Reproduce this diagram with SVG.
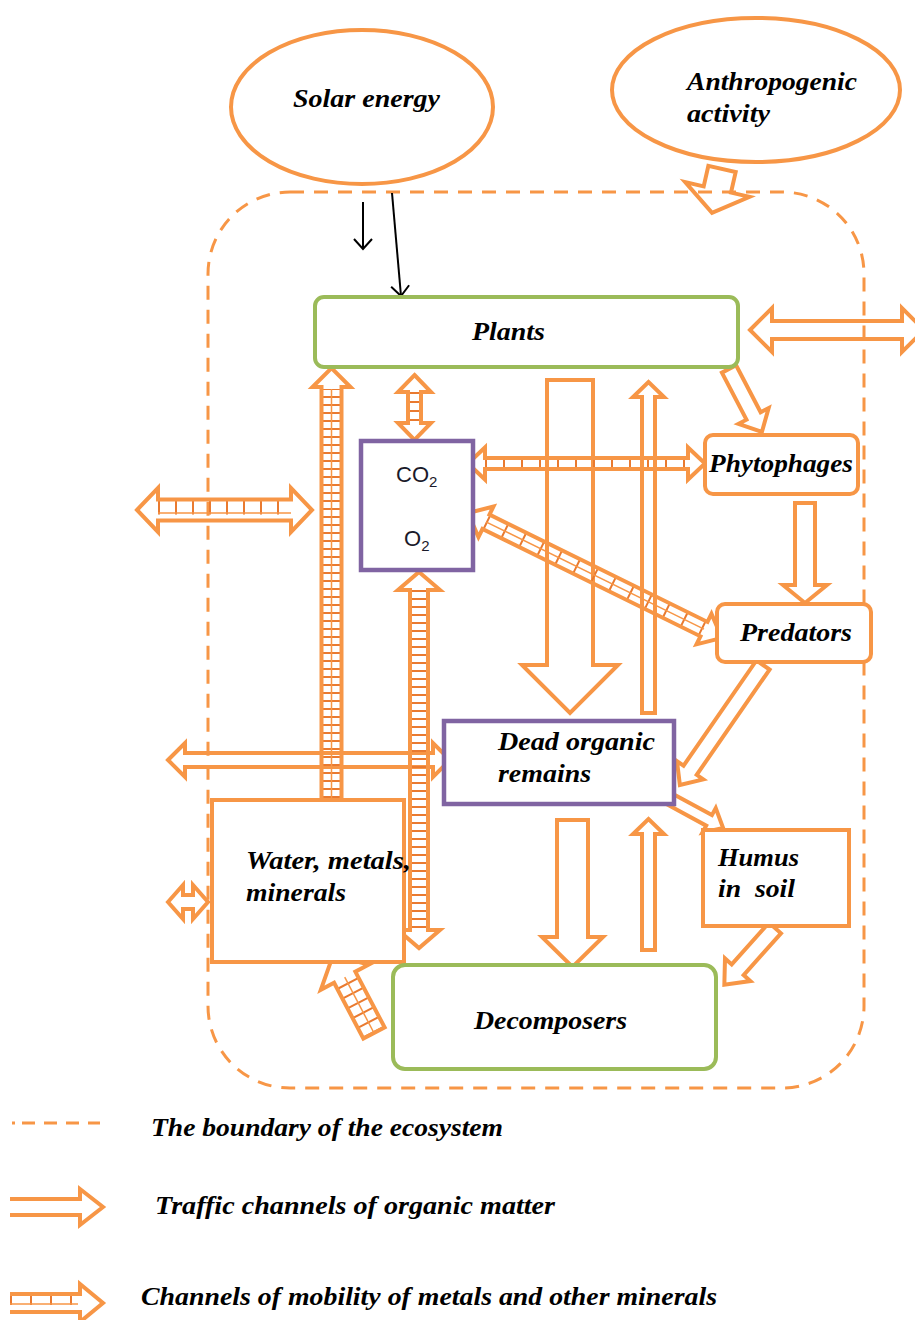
<svg xmlns="http://www.w3.org/2000/svg" width="915" height="1320" viewBox="0 0 915 1320">
<style>
.arr{fill:none;stroke:#F79646;stroke-width:4;stroke-linejoin:miter}
.rung{fill:none;stroke:#E97A30}
.cl{fill:none;stroke:#F79646;stroke-width:1.5}
.lbl{font-family:"Liberation Serif",serif;font-weight:bold;font-style:italic;font-size:26px;fill:#000}
.chem{font-family:"Liberation Sans",sans-serif;font-size:22px;fill:#1a1a2a}
.ell{fill:#fff;stroke:#F79646;stroke-width:4}
.green{fill:#fff;stroke:#9BBB59;stroke-width:4}
.purple{fill:#fff;stroke:#8064A2;stroke-width:4.5}
.orangebox{fill:#fff;stroke:#F79646;stroke-width:4}
.blk{fill:none;stroke:#000;stroke-width:2}
</style>
<defs>
<marker id="vhead" markerUnits="userSpaceOnUse" markerWidth="24" markerHeight="24" refX="12" refY="12" orient="auto" viewBox="0 0 24 24">
<path d="M2,3 L12,12 L2,21" fill="none" stroke="#000" stroke-width="2"/>
</marker>
</defs>
<rect width="915" height="1320" fill="#fff"/>

<g id="boundary">
<rect x="208" y="192" width="656" height="896" rx="82" ry="82" fill="none" stroke="#F79646" stroke-width="3" stroke-dasharray="14 10"/>
</g>

<g id="connectors">
<line class="blk" x1="363" y1="202" x2="363" y2="249" marker-end="url(#vhead)"/>
<line class="blk" x1="392" y1="193" x2="401" y2="296" marker-end="url(#vhead)"/>
<path class="arr" transform="translate(722,169) rotate(102.8)" d="M0,-14 L21,-14 L21,-33 L45,0 L21,33 L21,14 L0,14 Z"/>
<path class="arr" d="M750,330 L772,308 L772,321 L902,321 L902,308 L924,330 L902,352 L902,339 L772,339 L772,352 Z"/>
<path class="arr" transform="translate(729,369) rotate(62.4)" d="M0,-8 L53,-8 L53,-17 L71,0 L53,17 L53,8 L0,8 Z"/>
<path class="arr" d="M795,503 L815,503 L815,585 L827,585 L805,603 L783,585 L795,585 Z"/>
<path class="arr" transform="translate(763,665) rotate(124.7)" d="M0,-8 L128,-8 L128,-16 L146,0 L128,16 L128,8 L0,8 Z"/>
<path class="arr" transform="translate(666,797) rotate(28.5)" d="M0,-6 L49,-6 L49,-14 L65,0 L49,14 L49,6 L0,6 Z"/>
<path class="arr" transform="translate(775,928) rotate(131.8)" d="M0,-8 L56,-8 L56,-17 L76,0 L56,17 L56,8 L0,8 Z"/>
<path class="arr" d="M547,380 L593,380 L593,665 L618,665 L570,713 L522,665 L547,665 Z"/>
<path class="arr" d="M642,713 L642,397 L633,397 L648.5,382 L664,397 L655,397 L655,713 Z"/>
<path class="arr" d="M557,820 L588,820 L588,937 L603,937 L572.5,967 L542,937 L557,937 Z"/>
<path class="arr" d="M642,950 L642,834 L633,834 L648.5,819 L664,834 L655,834 L655,950 Z"/>
<path class="arr" d="M168,760 L185,743 L185,753 L433,753 L433,743 L450,760 L433,777 L433,767 L185,767 L185,777 Z"/>
<path class="arr" d="M168,902 L183,885 L183,895 L193,895 L193,885 L208,902 L193,919 L193,909 L183,909 L183,919 Z"/>

<g id="h-water-plants">
<line class="rung" x1="331.5" y1="806" x2="331.5" y2="389" stroke-width="20" stroke-dasharray="2 6"/>
<line class="cl" x1="331.5" y1="806" x2="331.5" y2="389"/>
<path class="arr" d="M321.5,808 L321.5,387 L312.5,387 L331.5,368 L350.5,387 L341.5,387 L341.5,808 Z"/>
</g>
<g id="h-plants-co2">
<line class="rung" x1="414.5" y1="392" x2="414.5" y2="423" stroke-width="13" stroke-dasharray="2 7"/>
<path class="arr" d="M414.5,375 L431,392 L421,392 L421,423 L431,423 L414.5,440 L398,423 L408,423 L408,392 L398,392 Z"/>
</g>
<g id="h-co2-decomp">
<line class="rung" x1="419" y1="590" x2="419" y2="930" stroke-width="18" stroke-dasharray="2 6"/>
<path class="arr" d="M419,572 L440,590 L428,590 L428,930 L440,930 L419,948 L398,930 L410,930 L410,590 L398,590 Z"/>
</g>
<g id="h-co2-phyto">
<line class="rung" x1="485" y1="463.5" x2="688" y2="463.5" stroke-width="11" stroke-dasharray="2 16"/>
<path class="arr" d="M468,463.5 L485,447.5 L485,458 L688,458 L688,447.5 L705,463.5 L688,479.5 L688,469 L485,469 L485,479.5 Z"/>
</g>
<g id="h-left">
<line class="rung" x1="158" y1="507" x2="291" y2="507" stroke-width="15" stroke-dasharray="2 15"/>
<line class="cl" x1="158" y1="513" x2="291" y2="513"/>
<path class="arr" d="M137,510 L158,488 L158,499.5 L291,499.5 L291,488 L312,510 L291,532 L291,520.5 L158,520.5 L158,532 Z"/>
</g>
<g id="h-co2-pred" transform="translate(468,513) rotate(26.2)">
<line class="rung" x1="20" y1="0" x2="263" y2="0" stroke-width="16" stroke-dasharray="2 18"/>
<line class="cl" x1="20" y1="0" x2="263" y2="0"/>
<path class="arr" d="M0,0 L20,-17 L20,-8 L263,-8 L263,-17 L283,0 L263,17 L263,8 L20,8 L20,17 Z"/>
</g>
<g id="h-decomp-water" transform="translate(374,1033) rotate(-117.7)">
<line class="rung" x1="0" y1="0" x2="63" y2="0" stroke-width="24" stroke-dasharray="2 9"/>
<line class="cl" x1="0" y1="0" x2="63" y2="0"/>
<path class="arr" d="M0,-12 L63,-12 L63,-27 L88,0 L63,27 L63,12 L0,12 Z"/>
</g>
</g>

<g id="solar">
<ellipse class="ell" cx="362" cy="107" rx="131" ry="77"/>
<text class="lbl" x="293" y="107" textLength="147" lengthAdjust="spacingAndGlyphs">Solar energy</text>
</g>
<g id="anthropogenic">
<ellipse class="ell" cx="756" cy="90" rx="144" ry="72"/>
<text class="lbl" x="687" y="90" textLength="170" lengthAdjust="spacingAndGlyphs">Anthropogenic</text>
<text class="lbl" x="687" y="122" textLength="83" lengthAdjust="spacingAndGlyphs">activity</text>
</g>
<g id="plants">
<rect class="green" x="315" y="297" width="423" height="70" rx="9"/>
<text class="lbl" x="472" y="340" textLength="73" lengthAdjust="spacingAndGlyphs">Plants</text>
</g>
<g id="co2o2">
<rect class="purple" x="361" y="441" width="112" height="129"/>
<text class="chem" x="396" y="482">CO<tspan font-size="15" dy="5">2</tspan></text>
<text class="chem" x="404" y="546">O<tspan font-size="15" dy="5">2</tspan></text>
</g>
<g id="phytophages">
<rect class="orangebox" x="705" y="435" width="153" height="59" rx="8"/>
<text class="lbl" x="709" y="472" textLength="144" lengthAdjust="spacingAndGlyphs">Phytophages</text>
</g>
<g id="predators">
<rect class="orangebox" x="717" y="604" width="154" height="58" rx="8"/>
<text class="lbl" x="740" y="641" textLength="112" lengthAdjust="spacingAndGlyphs">Predators</text>
</g>
<g id="dead">
<rect class="purple" x="444" y="721" width="230" height="83"/>
<text class="lbl" x="498" y="750" textLength="157" lengthAdjust="spacingAndGlyphs">Dead organic</text>
<text class="lbl" x="498" y="782" textLength="93" lengthAdjust="spacingAndGlyphs">remains</text>
</g>
<g id="humus">
<rect class="orangebox" x="703" y="830" width="146" height="96" stroke-width="4.5"/>
<text class="lbl" x="718" y="866" textLength="81" lengthAdjust="spacingAndGlyphs">Humus</text>
<text class="lbl" x="718" y="897" textLength="77" lengthAdjust="spacingAndGlyphs" xml:space="preserve">in  soil</text>
</g>
<g id="water">
<rect class="orangebox" x="212" y="800" width="192" height="162" stroke-width="5"/>
<text class="lbl" x="246" y="869" textLength="165" lengthAdjust="spacingAndGlyphs">Water, metals,</text>
<text class="lbl" x="246" y="901" textLength="100" lengthAdjust="spacingAndGlyphs">minerals</text>
</g>
<g id="decomposers">
<rect class="green" x="393" y="965" width="323" height="104" rx="12"/>
<text class="lbl" x="474" y="1029" textLength="153" lengthAdjust="spacingAndGlyphs">Decomposers</text>
</g>

<g id="legend">
<line x1="12" y1="1123" x2="100" y2="1123" stroke="#F79646" stroke-width="3" stroke-dasharray="3 7 13 9 13 9 13 9 13"/>
<text class="lbl" x="151" y="1136" textLength="352" lengthAdjust="spacingAndGlyphs">The boundary of the ecosystem</text>
<path class="arr" d="M10,1199 L80,1199 L80,1189 L103,1207 L80,1225 L80,1215 L10,1215"/>
<text class="lbl" x="155" y="1214" textLength="400" lengthAdjust="spacingAndGlyphs">Traffic channels of organic matter</text>
<line class="rung" x1="10" y1="1300" x2="78" y2="1300" stroke-width="10" stroke-dasharray="2 18"/>
<line class="cl" x1="10" y1="1304" x2="78" y2="1304"/>
<path class="arr" d="M10,1294 L80,1294 L80,1284 L103,1303 L80,1322 L80,1312 L10,1312"/>
<text class="lbl" x="141" y="1305" textLength="576" lengthAdjust="spacingAndGlyphs">Channels of mobility of metals and other minerals</text>
</g>
</svg>
